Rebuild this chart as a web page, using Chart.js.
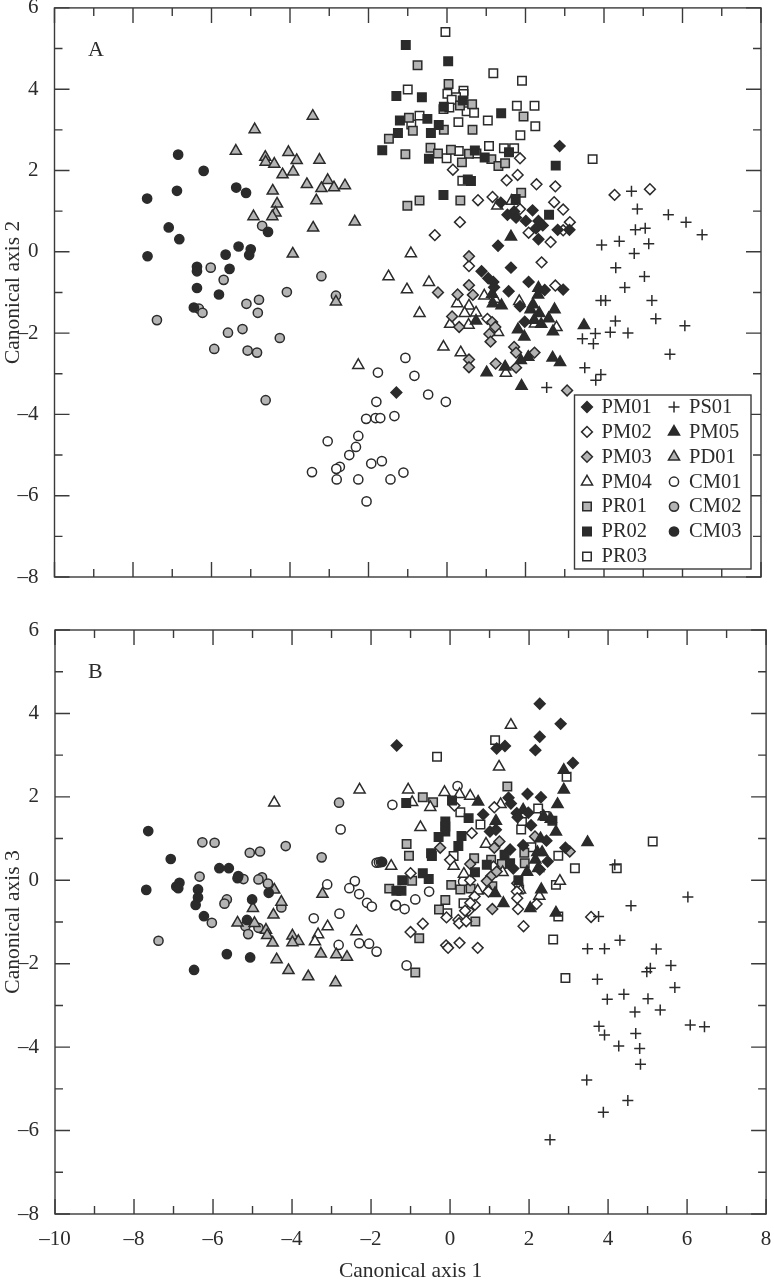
<!DOCTYPE html>
<html>
<head>
<meta charset="utf-8">
<title>Canonical axes</title>
<script src="https://cdn.jsdelivr.net/npm/chart.js"></script>
<style>
  html, body { margin: 0; padding: 0; background: #fff; }
  body { width: 774px; height: 1280px; position: relative; overflow: hidden; }
  .panel { position: absolute; left: 0; width: 774px; }
  #panelA { top: 0; height: 600px; }
  #panelB { top: 600px; height: 680px; }
</style>
</head>
<body>
<div class="panel" id="panelA"><canvas id="chartA"></canvas></div>
<div class="panel" id="panelB"><canvas id="chartB"></canvas></div>
<script>
// Panel A: canonical axis 1 / canonical axis 2
const pm01A = [[1.37,1.21],[1.54,0.91],[1.71,0.99],[1.76,0.84],[2.18,1.02],[2.01,0.76],[2.33,0.76],[2.44,0.65],[2.27,0.58],[2.33,0.31],[2.82,0.54],[3.12,0.54],[1.30,0.15],[1.63,-0.39],[0.88,-0.48],[1.05,-0.65],[1.18,-0.74],[1.20,-0.87],[2.08,-0.74],[1.57,-0.97],[2.49,-0.94],[2.96,-0.93],[1.86,-1.34],[1.98,-1.72],[2.87,2.60],[-1.29,-3.46]];
const pm02A = [[1.52,1.76],[1.80,1.89],[2.28,1.66],[2.76,1.61],[1.16,1.35],[0.79,1.27],[2.73,1.22],[2.96,1.04],[3.13,0.73],[1.86,1.05],[0.33,0.73],[-0.31,0.41],[2.08,0.47],[2.64,0.24],[2.96,0.53],[2.41,-0.26],[0.56,-0.35],[2.76,-0.83],[1.03,-1.65],[1.86,2.30],[0.15,2.02],[4.27,1.40],[5.17,1.54]];
const pm03A = [[0.56,-0.11],[0.56,-0.82],[-0.23,-1.00],[0.27,-1.05],[0.66,-1.06],[0.13,-1.59],[0.31,-1.85],[1.15,-1.73],[1.23,-1.85],[1.08,-2.02],[1.11,-2.21],[1.71,-2.34],[1.76,-2.48],[2.23,-2.48],[0.56,-2.65],[0.56,-2.84],[1.24,-2.75],[1.76,-2.85],[3.06,-3.41]];
const pm04A = [[-1.49,-0.61],[-2.26,-2.79],[-0.92,-0.04],[-1.02,-0.93],[-0.46,-0.75],[-0.70,-1.51],[0.26,-1.27],[0.56,-1.33],[0.45,-1.51],[0.74,-1.50],[0.08,-1.78],[0.55,-1.80],[-0.09,-2.34],[0.35,-2.48],[1.50,-2.98],[0.95,-1.08],[1.28,1.13],[1.65,1.25],[1.84,-1.22],[1.30,-1.98],[2.24,-1.77],[2.79,-1.86],[1.22,-1.16]];
const pr01A = [[-0.75,4.59],[0.04,4.13],[-0.97,3.30],[0.33,3.60],[0.64,3.63],[1.95,3.33],[-0.87,2.98],[-0.08,3.00],[0.65,3.00],[-1.48,2.78],[-1.06,2.40],[-0.42,2.56],[-0.23,2.42],[0.10,2.51],[0.56,2.41],[0.38,2.20],[1.13,2.28],[1.31,2.11],[1.48,2.18],[1.89,1.45],[-0.70,1.26],[-1.01,1.13],[0.34,1.26]];
const pr02A = [[-1.05,5.09],[0.03,4.69],[-1.29,3.83],[-0.64,3.80],[0.40,3.72],[-0.08,3.57],[1.38,3.41],[-1.20,3.23],[-0.50,3.27],[-0.21,3.12],[-1.25,2.92],[-0.41,2.92],[-1.65,2.50],[0.71,2.49],[0.96,2.32],[-0.46,2.29],[1.58,2.45],[2.77,2.12],[0.53,1.78],[0.61,1.74],[-0.09,1.40],[1.75,1.30],[2.60,0.91]];
const pr03A = [[-0.04,5.41],[-1.00,3.99],[1.18,4.39],[1.91,4.21],[0.01,3.89],[0.42,3.96],[0.42,3.88],[0.23,3.80],[0.12,3.74],[1.78,3.59],[2.23,3.59],[-0.09,3.51],[0.06,3.55],[0.50,3.46],[0.69,3.42],[0.29,3.19],[1.04,3.23],[-0.70,3.35],[-0.91,3.13],[2.25,3.09],[1.87,2.87],[1.07,2.60],[1.45,2.55],[1.71,2.55],[0.30,2.48],[-0.01,2.30],[0.75,2.42],[3.71,2.28],[0.39,1.75]];
const ps01A = [[4.70,1.49],[4.85,1.05],[5.64,0.91],[6.09,0.73],[6.50,0.42],[4.80,0.54],[5.05,0.58],[4.39,0.26],[3.94,0.17],[5.14,0.20],[4.77,-0.04],[4.30,-0.39],[5.03,-0.61],[4.53,-0.88],[3.92,-1.20],[4.04,-1.20],[5.22,-1.20],[5.32,-1.65],[4.29,-1.70],[6.06,-1.82],[3.78,-2.01],[4.16,-1.98],[4.61,-2.00],[3.45,-2.14],[3.73,-2.26],[5.68,-2.52],[3.51,-2.85],[3.92,-3.02],[3.79,-3.16],[2.54,-3.34]];
const pm05A = [[1.63,0.37],[2.33,-0.89],[2.32,-1.06],[1.15,-1.04],[1.17,-1.27],[1.39,-1.32],[2.19,-1.30],[2.13,-1.42],[2.74,-1.42],[2.35,-1.51],[2.59,-1.64],[2.22,-1.68],[2.40,-1.78],[0.74,-1.70],[1.81,-1.91],[1.97,-2.09],[2.70,-1.96],[3.49,-1.81],[2.07,-2.59],[1.88,-2.67],[2.69,-2.61],[2.88,-2.72],[1.48,-2.83],[1.01,-2.97],[1.90,-3.30]];
const pd01A = [[-3.42,3.34],[-4.90,3.01],[-5.38,2.48],[-4.63,2.33],[-4.62,2.21],[-4.04,2.45],[-4.40,2.16],[-3.83,2.25],[-3.25,2.26],[-4.19,1.90],[-3.92,1.97],[-3.57,1.66],[-3.04,1.76],[-3.20,1.56],[-2.88,1.58],[-2.60,1.63],[-4.44,1.50],[-3.33,1.26],[-4.33,1.18],[-4.37,0.96],[-4.45,0.87],[-4.93,0.87],[-3.41,0.59],[-2.35,0.74],[-3.93,-0.05],[-2.83,-1.23]];
const cm01A = [[-1.06,-2.61],[-1.76,-2.97],[-0.83,-3.05],[-0.48,-3.51],[-0.03,-3.69],[-1.80,-3.69],[-1.34,-4.04],[-2.06,-4.11],[-1.82,-4.09],[-1.70,-4.09],[-2.26,-4.53],[-3.04,-4.66],[-2.32,-4.80],[-2.49,-5.00],[-1.66,-5.15],[-1.93,-5.21],[-2.73,-5.29],[-2.82,-5.34],[-3.44,-5.42],[-1.11,-5.43],[-2.81,-5.60],[-2.26,-5.60],[-1.44,-5.60],[-2.05,-6.14]];
const cm02A = [[-4.71,0.64],[-6.02,-0.39],[-5.69,-0.69],[-3.20,-0.60],[-4.08,-0.99],[-2.83,-1.08],[-4.79,-1.18],[-5.11,-1.28],[-4.82,-1.50],[-6.32,-1.40],[-6.23,-1.50],[-7.39,-1.68],[-5.21,-1.90],[-5.58,-1.99],[-4.26,-2.12],[-5.93,-2.39],[-5.08,-2.43],[-4.84,-2.48],[-4.62,-3.65]];
const cm03A = [[-6.85,2.39],[-6.20,1.99],[-6.88,1.50],[-7.64,1.31],[-5.37,1.58],[-5.12,1.45],[-7.09,0.60],[-6.82,0.31],[-7.63,-0.11],[-5.64,-0.07],[-5.31,0.13],[-5.00,0.06],[-5.04,-0.08],[-4.56,0.49],[-6.37,-0.37],[-6.37,-0.48],[-5.54,-0.42],[-6.37,-0.89],[-5.81,-1.05],[-6.45,-1.37]];

// Panel B: canonical axis 1 / canonical axis 3
const pm01B = [[2.27,4.23],[2.80,3.75],[2.27,3.44],[-1.35,3.23],[1.18,3.16],[1.39,3.22],[2.16,3.12],[3.11,2.81],[1.96,2.07],[2.30,1.99],[1.48,1.98],[1.54,1.84],[0.84,1.58],[1.69,1.61],[1.71,1.51],[1.98,1.62],[2.05,1.32],[1.01,1.17],[1.16,1.21],[2.44,0.95],[1.85,0.84],[1.52,0.74],[2.92,0.78],[2.47,0.45],[1.60,0.28],[2.27,0.26]];
const pm02B = [[1.12,1.75],[0.11,1.79],[0.55,1.13],[0.00,0.49],[-1.00,0.17],[0.51,0.00],[1.10,0.33],[0.62,-0.39],[0.97,-0.27],[0.63,-0.59],[0.47,-0.73],[0.38,-0.73],[1.70,-0.07],[1.69,-0.27],[1.70,-0.43],[1.72,-0.69],[2.19,-0.57],[1.86,-1.10],[-0.09,-0.89],[0.21,-0.95],[0.23,-1.03],[0.41,-0.98],[-0.69,-1.04],[-1.00,-1.24],[-0.10,-1.56],[-0.05,-1.62],[0.24,-1.50],[0.70,-1.62],[0.51,-0.54],[3.57,-0.88]];
const pm03B = [[2.15,1.05],[1.25,0.93],[1.12,0.78],[-0.25,0.78],[3.03,0.69],[0.51,0.39],[1.04,0.10],[0.93,-0.02],[1.07,-0.69],[1.18,0.21]];
const pm04B = [[1.54,3.72],[1.24,2.72],[-1.06,2.17],[-0.96,1.87],[-0.50,1.75],[-0.14,2.11],[0.24,2.06],[0.51,2.02],[1.28,1.82],[-0.75,1.27],[0.91,0.87],[-1.49,0.34],[0.09,0.34],[0.35,0.15],[1.33,0.19],[0.70,-0.25],[0.97,-0.23],[2.78,-0.02],[2.26,-0.38],[1.77,-0.23],[-2.29,2.17],[-4.45,1.86],[-3.10,-1.11],[-3.34,-1.30],[-3.42,-1.47],[-2.37,-1.23]];
const pr01B = [[1.45,2.25],[-0.69,1.99],[-0.43,1.87],[-1.10,0.87],[-1.04,0.59],[1.88,0.66],[0.61,0.53],[1.04,0.49],[1.31,0.39],[1.89,0.41],[-0.96,-0.01],[-1.54,-0.20],[0.03,-0.11],[0.26,-0.22],[0.52,-0.20],[1.07,-0.14],[-0.12,-0.47],[-0.28,-0.70],[0.64,-0.99],[-0.78,-1.39],[-0.88,-2.21]];
const pr02B = [[-1.11,1.85],[0.05,1.91],[0.47,1.49],[-0.12,1.41],[-0.12,1.29],[-0.12,1.17],[-0.29,1.04],[0.29,1.06],[0.21,0.82],[2.59,1.43],[-0.48,0.65],[-0.46,0.58],[0.63,0.19],[0.93,0.37],[1.38,0.61],[1.52,0.41],[-0.69,0.17],[-1.21,0.00],[-0.54,0.03],[-1.36,-0.25],[-1.23,-0.25],[1.73,0.00]];
const pr03B = [[1.14,3.36],[-0.33,2.96],[2.95,2.48],[2.23,1.72],[0.26,1.63],[2.40,1.54],[0.77,1.34],[1.82,1.40],[1.80,1.22],[2.06,0.79],[2.74,0.59],[3.16,0.29],[0.09,0.58],[0.34,-0.55],[-0.07,-0.79],[1.75,-0.22],[2.68,-0.11],[2.74,-0.87],[2.61,-1.42],[2.92,-2.34],[4.22,0.29],[5.13,0.93]];
const ps01B = [[6.02,-0.40],[4.58,-0.61],[4.17,0.37],[3.76,-0.87],[4.30,-1.44],[3.48,-1.64],[3.91,-1.64],[5.22,-1.65],[5.59,-2.04],[5.07,-2.11],[4.98,-2.19],[5.69,-2.57],[3.73,-2.37],[4.40,-2.73],[3.98,-2.85],[5.01,-2.84],[5.32,-3.11],[4.68,-3.16],[3.77,-3.50],[3.91,-3.71],[4.70,-3.67],[6.08,-3.47],[6.44,-3.51],[4.27,-3.97],[4.80,-4.03],[4.82,-4.41],[3.46,-4.79],[4.50,-5.28],[3.88,-5.56],[2.53,-6.22]];
const pm05B = [[2.88,2.64],[2.88,2.17],[2.72,1.82],[0.71,1.88],[1.16,1.42],[1.85,1.69],[2.37,1.53],[2.55,1.47],[2.68,1.16],[2.29,1.00],[3.48,0.91],[2.21,0.67],[2.33,0.67],[2.16,0.49],[1.95,0.20],[2.31,-0.22],[1.14,-0.31],[1.35,-0.55],[2.03,-0.67],[2.68,-0.78],[2.23,0.29]];
const pd01B = [[-4.45,-0.23],[-4.27,-0.52],[-3.23,-0.33],[-4.99,-0.67],[-4.47,-0.83],[-5.38,-1.02],[-4.95,-1.03],[-4.66,-1.19],[-4.63,-1.32],[-4.49,-1.50],[-3.99,-1.33],[-3.84,-1.46],[-3.99,-1.49],[-3.27,-1.76],[-2.88,-1.78],[-2.61,-1.84],[-4.39,-1.90],[-4.09,-2.16],[-3.59,-2.31],[-2.90,-2.45]];
const cm01B = [[-1.46,1.81],[-2.77,1.22],[-1.86,0.42],[-1.80,0.43],[-1.75,0.44],[-3.11,-0.10],[-2.41,-0.02],[-2.55,-0.19],[-2.30,-0.33],[-2.10,-0.54],[-1.98,-0.63],[-1.38,-0.59],[-3.45,-0.91],[-2.80,-0.80],[-2.82,-1.55],[-2.30,-1.51],[-2.05,-1.52],[-1.86,-1.71],[0.19,2.26],[-0.53,-0.27],[-0.88,-0.46],[-1.37,-0.60],[-1.15,-0.69],[0.33,-0.03],[-1.10,-2.04]];
const cm02B = [[-6.27,0.91],[-5.96,0.90],[-5.07,0.66],[-4.81,0.69],[-4.16,0.82],[-3.25,0.55],[-2.81,1.86],[-6.34,0.09],[-5.23,0.03],[-4.76,0.07],[-4.85,0.02],[-4.61,-0.08],[-5.65,-0.46],[-5.71,-0.56],[-4.27,-0.65],[-6.03,-1.02],[-5.18,-1.10],[-4.85,-1.14],[-5.11,-1.29],[-7.38,-1.45]];
const cm03B = [[-7.64,1.18],[-7.07,0.51],[-7.69,-0.23],[-6.85,-0.06],[-6.93,-0.15],[-6.88,-0.19],[-6.38,-0.22],[-6.38,-0.41],[-6.44,-0.59],[-6.23,-0.86],[-5.84,0.29],[-5.60,0.29],[-5.36,0.10],[-5.38,0.05],[-5.01,-0.46],[-4.59,-0.30],[-5.14,-0.95],[-5.65,-1.77],[-5.06,-1.85],[-6.48,-2.15],[-1.72,0.44]];

const seriesNames = ['PM01', 'PM02', 'PM03', 'PM04', 'PR01', 'PR02', 'PR03', 'PS01', 'PM05', 'PD01', 'CM01', 'CM02', 'CM03'];
const seriesA = [pm01A, pm02A, pm03A, pm04A, pr01A, pr02A, pr03A, ps01A, pm05A, pd01A, cm01A, cm02A, cm03A];
const seriesB = [pm01B, pm02B, pm03B, pm04B, pr01B, pr02B, pr03B, ps01B, pm05B, pd01B, cm01B, cm02B, cm03B];

const xTicks = [-10, 8];
const yTicks = [-8, 6];

const INK = '#2b2b2b';
const GREY = '#b4b4b4';
const FONT = '"Liberation Serif", "Times New Roman", serif';

// drawing order: lower "order" ends up on top
const markers = {
  PM01: { pointStyle: 'rectRot', radius: 5.4, fill: INK, order: 1 },
  PM02: { pointStyle: 'rectRot', radius: 5.4, fill: '#fff', order: 6 },
  PM03: { pointStyle: 'rectRot', radius: 5.4, fill: GREY, order: 5 },
  PM04: { pointStyle: 'triangle', radius: 6.4, fill: '#fff', order: 7 },
  PR01: { pointStyle: 'rect', radius: 6, fill: GREY, order: 8 },
  PR02: { pointStyle: 'rect', radius: 6, fill: INK, order: 3 },
  PR03: { pointStyle: 'rect', radius: 6, fill: '#fff', order: 9 },
  PS01: { pointStyle: 'cross', radius: 5.5, fill: INK, order: 4 },
  PM05: { pointStyle: 'triangle', radius: 6.4, fill: INK, order: 2 },
  PD01: { pointStyle: 'triangle', radius: 6.4, fill: GREY, order: 10 },
  CM01: { pointStyle: 'circle', radius: 4.6, fill: '#fff', order: 11 },
  CM02: { pointStyle: 'circle', radius: 4.6, fill: GREY, order: 12 },
  CM03: { pointStyle: 'circle', radius: 4.6, fill: INK, order: 0 }
};

function buildDatasets(series) {
  return series.map((rows, i) => {
    const m = markers[seriesNames[i]];
    return {
      label: seriesNames[i],
      data: rows.map((r) => ({ x: r[0], y: r[1] })),
      order: m.order,
      pointStyle: m.pointStyle,
      pointRadius: m.radius,
      pointHoverRadius: m.radius,
      pointBackgroundColor: m.fill,
      pointBorderColor: INK,
      pointBorderWidth: 1.5
    };
  });
}

function tickLabel(value) {
  if (value % 2 !== 0) return '';
  return value < 0 ? '\u2013' + Math.abs(value) : String(value);
}

// frame with inward ticks on all four sides
const framePlugin = {
  id: 'frame',
  afterDatasetsDraw(chart) {
    const { ctx, chartArea: a, scales } = chart;
    ctx.save();
    ctx.strokeStyle = '#3a3a3a';
    ctx.lineWidth = 1.4;
    ctx.strokeRect(a.left, a.top, a.right - a.left, a.bottom - a.top);
    ctx.beginPath();
    scales.x.ticks.forEach((t) => {
      const px = scales.x.getPixelForValue(t.value);
      const len = t.value % 2 === 0 ? 15 : 8;
      ctx.moveTo(px, a.bottom);
      ctx.lineTo(px, a.bottom - len);
      ctx.moveTo(px, a.top);
      ctx.lineTo(px, a.top + len);
    });
    scales.y.ticks.forEach((t) => {
      const py = scales.y.getPixelForValue(t.value);
      const len = t.value % 2 === 0 ? 15 : 8;
      ctx.moveTo(a.left, py);
      ctx.lineTo(a.left + len, py);
      ctx.moveTo(a.right, py);
      ctx.lineTo(a.right - len, py);
    });
    ctx.stroke();
    ctx.fillStyle = INK;
    ctx.font = '22px ' + FONT;
    ctx.textAlign = 'left';
    ctx.textBaseline = 'alphabetic';
    ctx.fillText(chart.options.plugins.frame.letter, 88, a.top + 48);
    ctx.restore();
  }
};

// two column key in the lower right corner of panel A
const keyPlugin = {
  id: 'key',
  afterDraw(chart) {
    if (!chart.options.plugins.key.show) return;
    const { ctx } = chart;
    const rowH = 24.9;
    ctx.save();
    ctx.fillStyle = '#fff';
    ctx.fillRect(574.5, 395, 176.5, 174);
    ctx.strokeStyle = '#3a3a3a';
    ctx.lineWidth = 1.4;
    ctx.strokeRect(574.5, 395, 176.5, 174);
    ctx.font = '20.5px ' + FONT;
    ctx.textBaseline = 'middle';
    ctx.textAlign = 'left';
    seriesNames.forEach((name, i) => {
      const second = i >= 7;
      const row = second ? i - 7 : i;
      const y = 407 + row * rowH;
      const m = markers[name];
      ctx.fillStyle = m.fill;
      ctx.strokeStyle = INK;
      ctx.lineWidth = 1.5;
      Chart.helpers.drawPoint(ctx, { pointStyle: m.pointStyle, radius: m.radius, rotation: 0, borderWidth: 1.5 }, second ? 674 : 587, y);
      ctx.fillStyle = INK;
      ctx.fillText(name, second ? 689 : 601.5, y + 0.5);
    });
    ctx.restore();
  }
};

function makeChart(id, series, opts) {
  return new Chart(document.getElementById(id), {
    type: 'scatter',
    data: { datasets: buildDatasets(series) },
    plugins: [framePlugin, keyPlugin],
    options: {
      responsive: false,
      animation: false,
      events: [],
      layout: { padding: { left: 0, right: 774 - opts.right, top: opts.top, bottom: 0 } },
      plugins: {
        legend: { display: false },
        tooltip: { enabled: false },
        frame: { letter: opts.letter },
        key: { show: opts.showKey }
      },
      scales: {
        x: {
          type: 'linear',
          min: xTicks[0],
          max: xTicks[1],
          grid: { display: false },
          border: { display: false },
          ticks: {
            display: opts.xLabels,
            stepSize: 1,
            autoSkip: false,
            maxRotation: 0,
            padding: 5,
            color: INK,
            font: { family: FONT, size: 21 },
            callback: tickLabel
          },
          title: {
            display: opts.xLabels,
            text: 'Canonical axis 1',
            color: INK,
            font: { family: FONT, size: 21.5 },
            padding: { top: 0, bottom: -4 }
          },
          afterFit(scale) {
            scale.height = opts.height - opts.bottom;
            scale.paddingLeft = 0;
            scale.paddingRight = 0;
          }
        },
        y: {
          type: 'linear',
          min: yTicks[0],
          max: yTicks[1],
          grid: { display: false },
          border: { display: false },
          ticks: {
            stepSize: 1,
            autoSkip: false,
            padding: 8,
            color: INK,
            font: { family: FONT, size: 21 },
            callback: tickLabel
          },
          title: {
            display: true,
            text: opts.yTitle,
            color: INK,
            font: { family: FONT, size: 21.5 },
            padding: { top: 0, bottom: 0 }
          },
          afterFit(scale) {
            scale.width = opts.left;
            scale.paddingTop = 0;
            scale.paddingBottom = 0;
          }
        }
      }
    }
  });
}

function sizeCanvas(id, h) {
  const c = document.getElementById(id);
  c.width = 774;
  c.height = h;
  c.style.width = '774px';
  c.style.height = h + 'px';
}

sizeCanvas('chartA', 600);
sizeCanvas('chartB', 680);

makeChart('chartA', seriesA, { letter: 'A', yTitle: 'Canonical axis 2', left: 54.5, right: 761, top: 6, bottom: 577, height: 600, xLabels: false, showKey: true });
makeChart('chartB', seriesB, { letter: 'B', yTitle: 'Canonical axis 3', left: 55, right: 769, top: 30, bottom: 614, height: 680, xLabels: true, showKey: false });
</script>
</body>
</html>
